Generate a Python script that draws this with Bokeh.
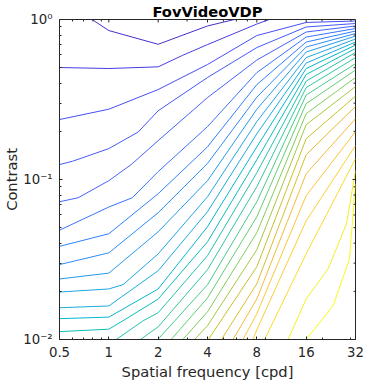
import math
from bokeh.plotting import figure
from bokeh.models import FixedTicker, Range1d
from bokeh.embed import file_html
from bokeh.resources import INLINE

# ---- axis ticks ----
x_ticks = [0.5, 1, 2, 4, 8, 16, 32]
x_tick_labels = ["0.5", "1", "2", "4", "8", "16", "32"]
x_minor = [0.6, 0.7, 0.8, 0.9, 3, 5, 6, 7, 9, 20, 30]
y_ticks = [0.01, 0.1, 1]
y_tick_labels = ["10\u207b\u00b2", "10\u207b\u00b9", "10\u2070"]
y_minor = [0.02, 0.03, 0.04, 0.05, 0.06, 0.07, 0.08, 0.09,
           0.2, 0.3, 0.4, 0.5, 0.6, 0.7, 0.8, 0.9]

# ---- contour lines (spatial frequency [cpd], contrast) ----
contour_freq = [
    [0.79, 1, 2, 4, 5.83],
    [0.5, 1, 2, 2.83, 4, 8, 9.54],
    [0.5, 1, 2, 4, 8, 16, 32],
    [0.5, 0.6, 1, 1.51, 2, 4, 8, 16, 32],
    [0.5, 0.65, 1, 1.37, 2, 4, 8, 16, 32],
    [0.5, 1, 1.39, 2, 4, 8, 16, 32],
    [0.5, 1, 2, 4, 8, 16, 32],
    [0.5, 1, 2, 4, 8, 16, 32],
    [0.5, 1, 2, 4, 8, 16, 32],
    [0.5, 1, 1.22, 2, 4, 8, 16, 32],
    [0.5, 1, 2, 4, 8, 16, 32],
    [0.5, 1, 2, 4, 8, 16, 32],
    [0.5, 1, 1.22, 2, 4, 8, 16, 32],
    [1.11, 1.62, 2, 4, 8, 16, 32],
    [1.56, 2, 4, 8, 16, 32],
    [1.99, 4, 8, 16, 32],
    [2.40, 4, 8, 16, 32],
    [2.83, 4, 8, 16, 32],
    [3.34, 4, 8, 16, 32],
    [4.05, 8, 16, 32],
    [4.86, 8, 16, 32],
    [5.72, 8, 16, 32],
    [6.59, 8, 16, 32],
    [7.58, 8, 16, 32],
    [8.93, 16, 32],
    [12.4, 16, 21.8, 28.2, 32],
    [16, 23.4, 29.4, 32],
]
contour_contrast = [
    [1.0, 0.853, 0.700, 0.911, 1.0],
    [0.501, 0.494, 0.506, 0.598, 0.697, 0.937, 1.0],
    [0.237, 0.275, 0.365, 0.523, 0.794, 0.958, 0.979],
    [0.124, 0.130, 0.156, 0.198, 0.269, 0.434, 0.668, 0.898, 0.944],
    [0.0726, 0.0769, 0.0983, 0.124, 0.175, 0.325, 0.558, 0.835, 0.911],
    [0.0482, 0.0673, 0.0769, 0.112, 0.214, 0.466, 0.777, 0.878],
    [0.0382, 0.0458, 0.0815, 0.160, 0.392, 0.723, 0.847],
    [0.0294, 0.0348, 0.0620, 0.126, 0.327, 0.673, 0.817],
    [0.0239, 0.0260, 0.0471, 0.0983, 0.275, 0.626, 0.788],
    [0.0198, 0.0207, 0.0220, 0.0343, 0.0780, 0.230, 0.578, 0.755],
    [0.0158, 0.0162, 0.0269, 0.0629, 0.193, 0.534, 0.723],
    [0.0135, 0.0138, 0.0207, 0.0507, 0.160, 0.494, 0.692],
    [0.0112, 0.0116, 0.0131, 0.0179, 0.0408, 0.133, 0.453, 0.659],
    [0.0100, 0.0131, 0.0147, 0.0334, 0.1103, 0.412, 0.622],
    [0.0100, 0.0120, 0.0273, 0.0902, 0.375, 0.578],
    [0.0100, 0.0220, 0.0726, 0.337, 0.530],
    [0.0100, 0.0182, 0.0585, 0.298, 0.483],
    [0.0100, 0.0149, 0.0465, 0.258, 0.434],
    [0.0100, 0.0122, 0.0364, 0.220, 0.381],
    [0.0100, 0.0285, 0.180, 0.332],
    [0.0100, 0.0223, 0.143, 0.286],
    [0.0100, 0.0179, 0.1087, 0.240],
    [0.0100, 0.0145, 0.0792, 0.199],
    [0.0100, 0.0115, 0.0552, 0.163],
    [0.0100, 0.0343, 0.135],
    [0.0100, 0.0179, 0.0277, 0.0529, 0.1135],
    [0.0100, 0.0163, 0.0319, 0.0941],
]
# parula colours of the 27 contour levels
contour_colors = [
    "#4332CB", "#463EE2", "#484DF0", "#4758F8", "#4563FD", "#3B72FE", "#2F81FA",
    "#2D8CF3", "#2699E9", "#20A5E3", "#18ADDB", "#04B6CD", "#0BBDBC", "#24C1AE",
    "#31C69F", "#46CB88", "#64CD6F", "#81CC59", "#A4C83E", "#C5C22A", "#DCBD29",
    "#F4BA39", "#FEC338", "#FCCF30", "#F7DC2A", "#F5EF20", "#F9FB15",
]

FONT = "DejaVu Sans"
AXC = "#262626"

p = figure(frame_width=296, frame_height=320,
           x_axis_type="log", y_axis_type="log",
           x_range=Range1d(0.5, 32), y_range=Range1d(0.01, 1),
           output_backend="svg", toolbar_location=None,
           title="FovVideoVDP")
p.min_border_left = 50
p.min_border_right = 9
p.min_border_top = 13
p.min_border_bottom = 43
p.grid.visible = False
p.outline_line_color = AXC
p.outline_line_width = 1
p.background_fill_color = "white"

p.title.align = "center"
p.title.text_font = FONT
p.title.text_font_size = "14.7px"
p.title.text_font_style = "bold"
p.title.text_color = "black"
p.title.standoff = 0
p.title.offset = 0

p.multi_line(xs=contour_freq, ys=contour_contrast, line_color=contour_colors, line_width=1)

# tick marks on the top and right edges of the box (MATLAB "box on")
p.ray(x=x_ticks, y=[1] * len(x_ticks), length=3, length_units="screen",
      angle=-math.pi / 2, line_color=AXC, line_width=1)
p.ray(x=x_minor, y=[1] * len(x_minor), length=2, length_units="screen",
      angle=-math.pi / 2, line_color=AXC, line_width=1)
p.ray(x=[32] * len(y_ticks), y=y_ticks, length=3, length_units="screen",
      angle=math.pi, line_color=AXC, line_width=1)
p.ray(x=[32] * len(y_minor), y=y_minor, length=2, length_units="screen",
      angle=math.pi, line_color=AXC, line_width=1)


def style_axis(ax):
    ax.axis_line_color = AXC
    ax.axis_line_width = 1
    ax.major_tick_line_color = AXC
    ax.minor_tick_line_color = AXC
    ax.major_tick_in = 3
    ax.major_tick_out = 0
    ax.minor_tick_in = 2
    ax.minor_tick_out = 0
    ax.major_label_text_font = FONT
    ax.major_label_text_color = AXC
    ax.major_label_text_font_size = "13.3px"
    ax.axis_label_text_font = FONT
    ax.axis_label_text_font_size = "14.7px"
    ax.axis_label_text_font_style = "normal"
    ax.axis_label_text_color = AXC


xax = p.xaxis[0]
xax.ticker = FixedTicker(ticks=x_ticks, minor_ticks=x_minor)
xax.major_label_overrides = {t: l for t, l in zip(x_ticks, x_tick_labels)}
xax.axis_label = "Spatial frequency [cpd]"
style_axis(xax)
xax.major_label_standoff = 7
xax.axis_label_standoff = 3

yax = p.yaxis[0]
yax.ticker = FixedTicker(ticks=y_ticks, minor_ticks=y_minor)
yax.major_label_overrides = {t: l for t, l in zip(y_ticks, y_tick_labels)}
yax.axis_label = "Contrast"
style_axis(yax)
yax.major_label_standoff = 7
yax.axis_label_standoff = 0

open("out.html", "w").write(file_html(p, INLINE))
